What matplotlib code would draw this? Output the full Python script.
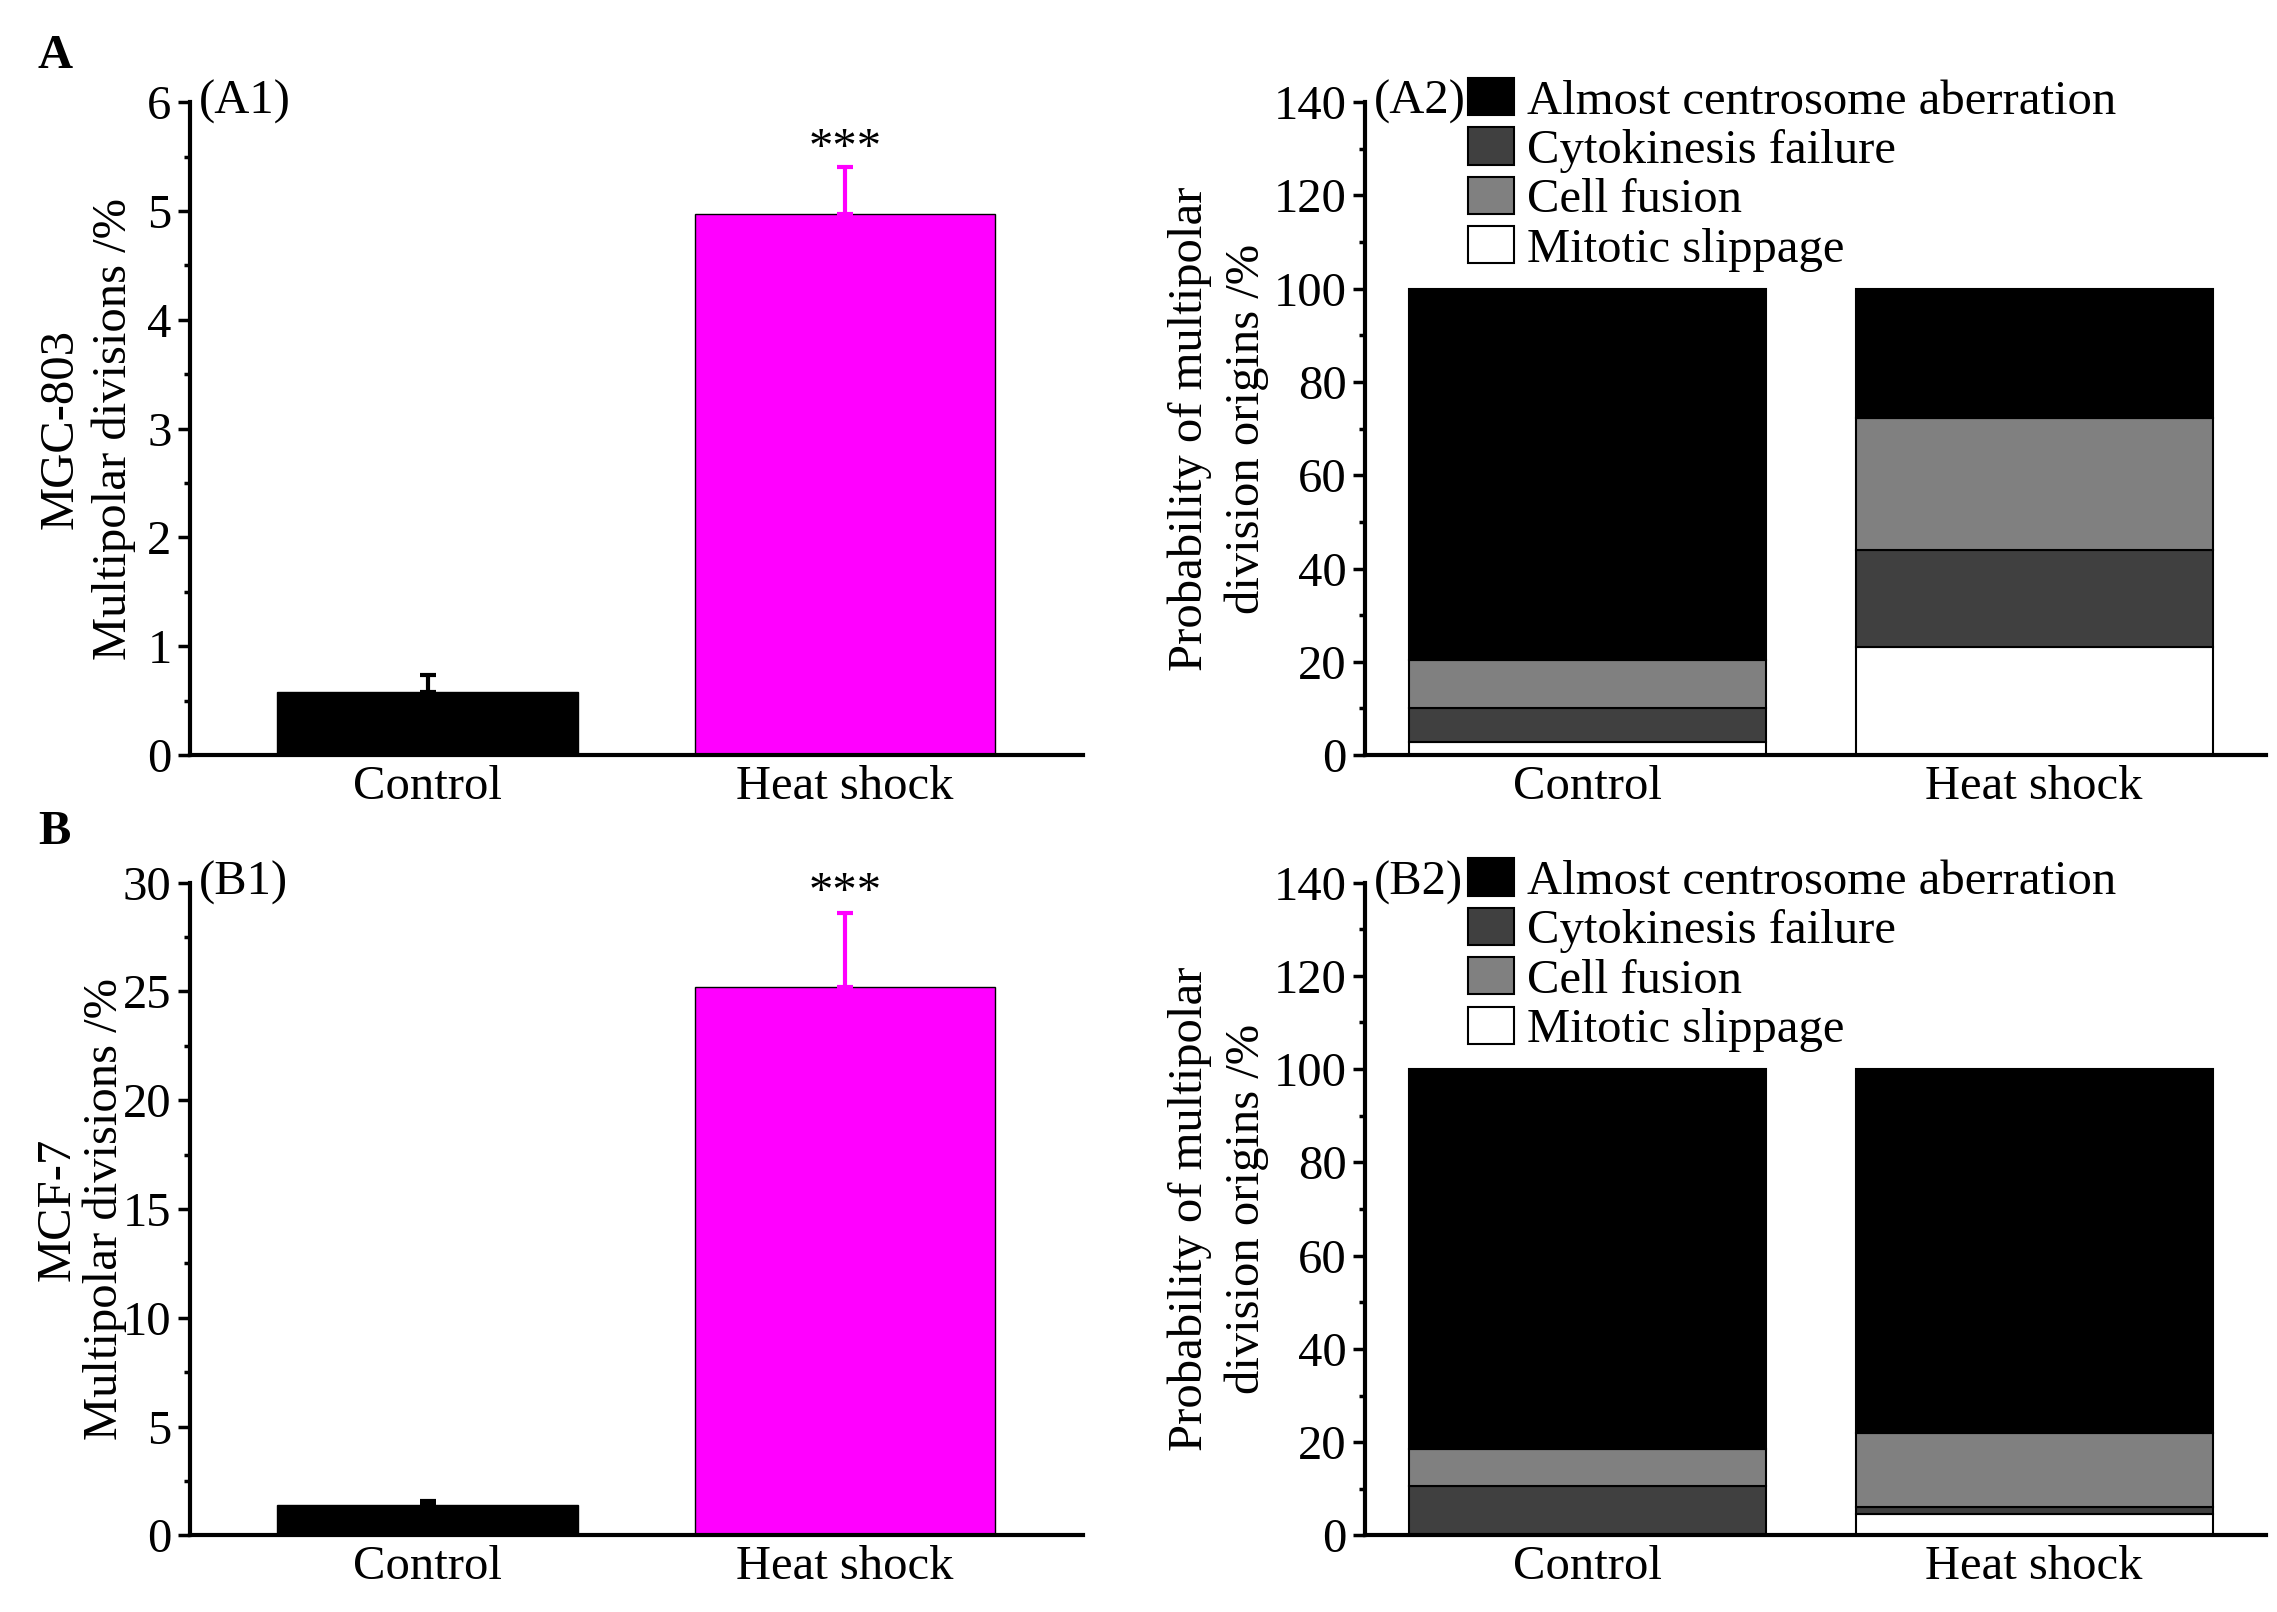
import numpy as np
import matplotlib
matplotlib.use("Agg")
import matplotlib.pyplot as plt
from matplotlib.patches import Patch
from matplotlib.ticker import MultipleLocator

plt.rcParams['font.family'] = ['Liberation Serif', 'DejaVu Serif']
plt.rcParams['font.size'] = 35

groups = ['Control', 'Heat shock']

# panel 1: multipolar divisions (%) with upper error bars
mgc_values = [0.58, 4.97]
mgc_err = [0.16, 0.43]
mcf_values = [1.4, 25.2]
mcf_err = [0.2, 3.4]

# panel 2: origins of multipolar divisions (%), stacked bottom -> top
origin_labels = ['Mitotic slippage', 'Cell fusion', 'Cytokinesis failure', 'Almost centrosome aberration']
mgc_slippage = [2.8, 23.2]
mgc_cytokinesis = [7.2, 20.7]
mgc_fusion = [10.4, 28.4]
mgc_centrosome = [79.6, 27.7]
mcf_slippage = [0.0, 4.6]
mcf_cytokinesis = [10.5, 1.4]
mcf_fusion = [8.0, 15.9]
mcf_centrosome = [81.5, 78.1]

bar_colors = ['black', '#ff00ff']
stack_colors = {'Mitotic slippage': 'white', 'Cytokinesis failure': '#404040',
                'Cell fusion': '#808080', 'Almost centrosome aberration': 'black'}

fig = plt.figure(figsize=(22.77, 16.12), dpi=100)


def style_axes(ax):
    for s in ['top', 'right']:
        ax.spines[s].set_visible(False)
    for s in ['left', 'bottom']:
        ax.spines[s].set_linewidth(3)
    ax.tick_params(axis='y', which='major', direction='out', length=9, width=2.5, pad=4)
    ax.tick_params(axis='y', which='minor', direction='out', length=4, width=2.5)
    ax.tick_params(axis='x', length=0, pad=7)


def bar_panel(rect, values, err, top, step, tag, ylabel, star_y, lab_x, lab_sp):
    ax = fig.add_axes(rect)
    x = np.array([1, 2])
    ax.bar(x, values, width=0.72, color=bar_colors, edgecolor='black', linewidth=1)
    for xi, v, e, c in zip(x, values, err, bar_colors):
        ax.errorbar(xi, v, yerr=[[0], [e]], color=c, capsize=6, elinewidth=3, capthick=3)
    ax.set_xlim(0.43, 2.57)
    ax.set_ylim(0, top)
    ax.yaxis.set_major_locator(MultipleLocator(step))
    ax.yaxis.set_minor_locator(MultipleLocator(step / 2))
    ax.set_xticks(x)
    ax.set_xticklabels(groups)
    ax.text(2, star_y, '***', ha='center', va='center', fontsize=35)
    ax.text(0.01, 1.0, tag, transform=ax.transAxes, ha='left', va='center')
    ax.set_ylabel(ylabel, multialignment='center', linespacing=lab_sp)
    ax.yaxis.set_label_coords(lab_x, 0.5)
    style_axes(ax)
    return ax


def stack_panel(rect, slip, cyto, fusion, centro, tag):
    ax = fig.add_axes(rect)
    x = np.array([1, 2])
    bottom = np.zeros(2)
    for name, vals in [('Mitotic slippage', slip), ('Cytokinesis failure', cyto),
                       ('Cell fusion', fusion), ('Almost centrosome aberration', centro)]:
        ax.bar(x, vals, bottom=bottom, width=0.8, color=stack_colors[name],
               edgecolor='black', linewidth=1.5)
        bottom = bottom + np.array(vals)
    ax.set_xlim(0.5, 2.52)
    ax.set_ylim(0, 140)
    ax.yaxis.set_major_locator(MultipleLocator(20))
    ax.yaxis.set_minor_locator(MultipleLocator(10))
    ax.set_xticks(x)
    ax.set_xticklabels(groups)
    ax.text(0.01, 1.0, tag, transform=ax.transAxes, ha='left', va='center')
    handles = [Patch(facecolor=stack_colors[n], edgecolor='black', linewidth=1.5, label=n)
               for n in origin_labels[::-1]]
    ax.legend(handles=handles, loc='upper left', bbox_to_anchor=(0.115, 1.037), frameon=False,
              borderpad=0, borderaxespad=0, handlelength=0.95, handleheight=0.8,
              handletextpad=0.25, labelspacing=0.08)
    ax.set_ylabel('Probability of multipolar\ndivision origins /%', multialignment='center',
                  linespacing=1.35)
    ax.yaxis.set_label_coords(-0.106, 0.5)
    style_axes(ax)
    return ax


bar_panel([0.0833, 0.5316, 0.3923, 0.405], mgc_values, mgc_err, 6, 1, '(A1)',
          'MGC-803\nMultipolar divisions /%', 5.57, -0.06, 1.25)
bar_panel([0.0833, 0.0475, 0.3923, 0.405], mcf_values, mcf_err, 30, 5, '(B1)',
          'MCF-7\nMultipolar divisions /%', 29.5, -0.07, 1.1)
stack_panel([0.5993, 0.5316, 0.396, 0.405], mgc_slippage, mgc_cytokinesis, mgc_fusion,
            mgc_centrosome, '(A2)')
stack_panel([0.5993, 0.0475, 0.396, 0.405], mcf_slippage, mcf_cytokinesis, mcf_fusion,
            mcf_centrosome, '(B2)')

fig.text(0.024, 0.965, 'A', fontweight='bold', ha='center', va='center')
fig.text(0.024, 0.484, 'B', fontweight='bold', ha='center', va='center')

fig.savefig('out.png', dpi=100)
